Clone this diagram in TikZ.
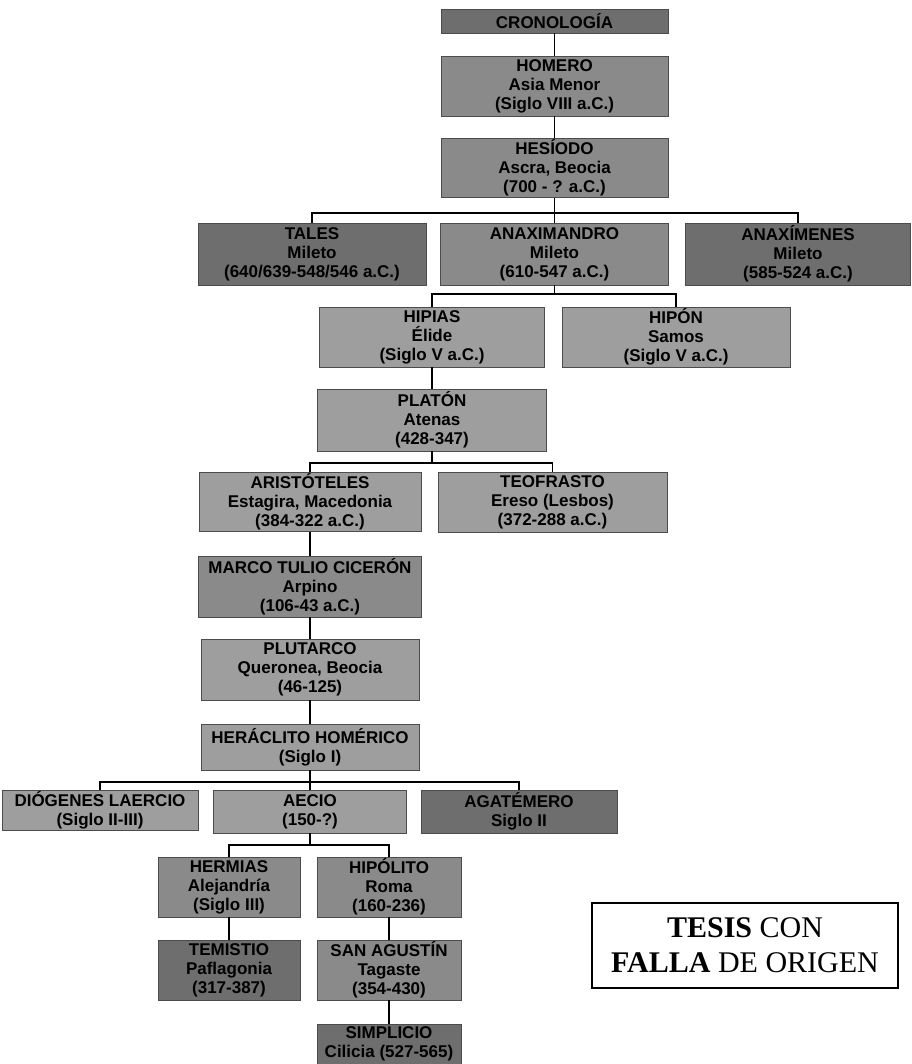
\documentclass[tikz,border=0pt]{standalone}
\usepackage{fontspec}
\setmainfont{Liberation Sans}
\newfontfamily\tesisfont{Liberation Serif}
\definecolor{boxlight}{gray}{0.62}
\definecolor{boxmid}{gray}{0.54}
\definecolor{boxdark}{gray}{0.43}
\begin{document}
\begin{tikzpicture}[x=1pt,y=-1pt,
  box/.style={draw=black!70, line width=0.7pt, fill=boxlight, inner sep=0pt, align=center,
    font=\bfseries\fontsize{17}{19}\selectfont},
  midbox/.style={box, fill=boxmid},
  darkbox/.style={box, fill=boxdark},
  link/.style={line width=1.1pt, black},
  tesisbox/.style={draw=black, line width=1.6pt, fill=white, inner sep=0pt, align=center,
    font=\tesisfont\fontsize{30}{35}\selectfont}]
\useasboundingbox[fill=white] (0,0) rectangle (911,1064);

% nodes
\node[darkbox, minimum width=227pt, minimum height=24pt] (cron) at (554.5,21) {CRONOLOGÍA};
\node[midbox, minimum width=227pt, minimum height=60pt] (homero) at (554.5,86) {HOMERO\\Asia Menor\\(Siglo VIII a.C.)};
\node[midbox, minimum width=227pt, minimum height=59pt] (hesiodo) at (554.5,168) {HESÍODO\\Ascra, Beocia\\(700 - ? a.C.)};

\node[darkbox, minimum width=228pt, minimum height=62pt] (tales) at (312,254) {TALES\\Mileto\\(640/639-548/546 a.C.)};
\node[midbox, minimum width=228pt, minimum height=62pt] (anaximandro) at (554.5,254) {ANAXIMANDRO\\Mileto\\(610-547 a.C.)};
\node[darkbox, minimum width=225pt, minimum height=62pt] (anaximenes) at (798,254) {ANAXÍMENES\\Mileto\\(585-524 a.C.)};

\node[box, minimum width=225pt, minimum height=60pt] (hipias) at (432,337) {HIPIAS\\Élide\\(Siglo V a.C.)};
\node[box, minimum width=228pt, minimum height=60pt] (hipon) at (676,337) {HIPÓN\\Samos\\(Siglo V a.C.)};

\node[box, minimum width=229pt, minimum height=62pt] (platon) at (432,420) {PLATÓN\\Atenas\\(428-347)};

\node[box, minimum width=222pt, minimum height=59pt] (aristoteles) at (310,502) {ARISTÓTELES\\Estagira, Macedonia\\(384-322 a.C.)};
\node[box, minimum width=229pt, minimum height=60pt] (teofrasto) at (552.5,502) {TEOFRASTO\\Ereso (Lesbos)\\(372-288 a.C.)};

\node[midbox, minimum width=223pt, minimum height=61pt] (cicero) at (310,586.5) {MARCO TULIO CICERÓN\\Arpino\\(106-43 a.C.)};
\node[box, minimum width=218pt, minimum height=61pt] (plutarco) at (310,669.5) {PLUTARCO\\Queronea, Beocia\\(46-125)};
\node[box, minimum width=218pt, minimum height=46pt] (heraclito) at (310,747) {HERÁCLITO HOMÉRICO\\(Siglo I)};

\node[box, minimum width=196pt, minimum height=40pt] (diogenes) at (100,810) {DIÓGENES LAERCIO\\(Siglo II-III)};
\node[box, minimum width=193pt, minimum height=43pt] (aecio) at (310,811.5) {AECIO\\(150-?)};
\node[darkbox, minimum width=196pt, minimum height=43pt] (agatemero) at (519,811.5) {AGATÉMERO\\Siglo II};

\node[midbox, minimum width=142pt, minimum height=60pt] (hermias) at (229,887) {HERMIAS\\Alejandría\\(Siglo III)};
\node[midbox, minimum width=144pt, minimum height=60pt] (hipolito) at (389,887) {HIPÓLITO\\Roma\\(160-236)};
\node[darkbox, minimum width=142pt, minimum height=60pt] (temistio) at (229,970) {TEMISTIO\\Paflagonia\\(317-387)};
\node[midbox, minimum width=144pt, minimum height=60pt] (agustin) at (389,970) {SAN AGUSTÍN\\Tagaste\\(354-430)};
\node[darkbox, minimum width=144pt, minimum height=40pt] (simplicio) at (389,1044) {SIMPLICIO\\Cilicia (527-565)};

\node[tesisbox, minimum width=306pt, minimum height=85pt] (tesis) at (745,945.5) {\textbf{TESIS} CON\\\textbf{FALLA} DE ORIGEN};

% junctions
\coordinate (j1) at (554.5,213);
\coordinate (j2) at (554.5,294);
\coordinate (j3) at (432,463);
\coordinate (j4) at (310,782);
\coordinate (j5) at (310,845);

% connectors
\draw[link] (cron) -- (homero);
\draw[link] (homero) -- (hesiodo);
\draw[link] (hesiodo) -- (anaximandro);
\draw[link] (tales.north) |- (j1) -| (anaximenes.north);
\draw[link] (anaximandro) -- (j2);
\draw[link] (hipias.north) |- (j2) -| (hipon.north);
\draw[link] (hipias) -- (platon);
\draw[link] (platon) -- (j3);
\draw[link] (aristoteles.north) |- (j3) -| (teofrasto.north);
\draw[link] (aristoteles) -- (cicero);
\draw[link] (cicero) -- (plutarco);
\draw[link] (plutarco) -- (heraclito);
\draw[link] (heraclito) -- (aecio);
\draw[link] (diogenes.north) |- (j4) -| (agatemero.north);
\draw[link] (aecio) -- (j5);
\draw[link] (hermias.north) |- (j5) -| (hipolito.north);
\draw[link] (hermias) -- (temistio);
\draw[link] (hipolito) -- (agustin);
\draw[link] (agustin) -- (simplicio);
\end{tikzpicture}
\end{document}
